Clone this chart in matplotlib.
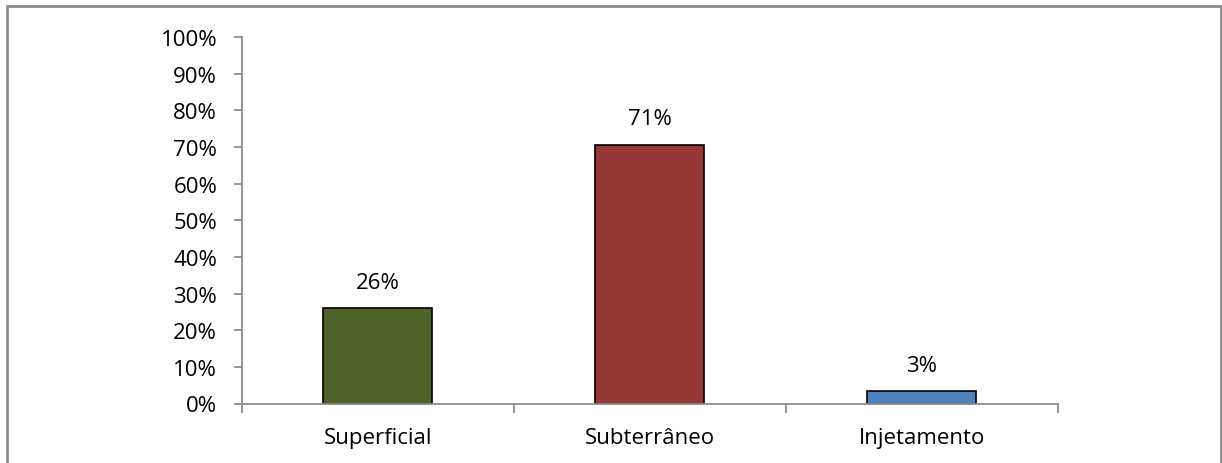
import matplotlib.pyplot as plt
from matplotlib.patches import Rectangle
from matplotlib.ticker import PercentFormatter

# =========================
# Data
# =========================
categories = ["Superficial", "Subterrâneo", "Injetamento"]
shares = [0.261, 0.706, 0.033]
colors = ["#4F6228", "#953735", "#4F81BD"]

plt.rcParams["font.family"] = ["Open Sans", "DejaVu Sans"]
FS = 16

W, H = 1222, 464
fig = plt.figure(figsize=(W / 100, H / 100), dpi=100)

# chart frame (bottom edge runs off the image)
fig.patches.append(Rectangle((6.5 / W, -0.05), (1220.5 - 6.5) / W, 1.05 - 7 / H,
                             transform=fig.transFigure, fill=False,
                             edgecolor="#8c8c8c", linewidth=2))

ax = fig.add_axes([241.5 / W, 1 - 404.5 / H, (1058 - 241.5) / W, (404.5 - 38) / H])

x = range(len(categories))
bars = ax.bar(x, shares, width=0.4, color=colors, edgecolor="black", linewidth=1.2)

for b, v in zip(bars, shares):
    ax.annotate(f"{v:.0%}", (b.get_x() + b.get_width() / 2, v),
                xytext=(0, 11), textcoords="offset points",
                ha="center", va="bottom", fontsize=FS)

# =========================
# Axes styling
# =========================
ax.set_ylim(0, 1)
ax.set_xlim(-0.5, len(categories) - 0.5)
ax.set_yticks([i / 10 for i in range(11)])
ax.yaxis.set_major_formatter(PercentFormatter(1.0, decimals=0))
ax.set_xticks([i - 0.5 for i in range(len(categories) + 1)])
ax.set_xticklabels([])
ax.set_xticks(list(x), minor=True)
ax.set_xticklabels(categories, minor=True)

for side in ["top", "right"]:
    ax.spines[side].set_visible(False)
for side in ["left", "bottom"]:
    ax.spines[side].set_color("#8c8c8c")
    ax.spines[side].set_linewidth(1.3)

ax.tick_params(axis="y", direction="out", length=5.5, width=1.3, color="#8c8c8c",
               labelsize=FS, pad=12)
ax.tick_params(axis="x", which="major", direction="out", length=6.5, width=1.3,
               color="#8c8c8c")
ax.tick_params(axis="x", which="minor", length=0, labelsize=FS, pad=17)

fig.savefig("out.png", dpi=100)
